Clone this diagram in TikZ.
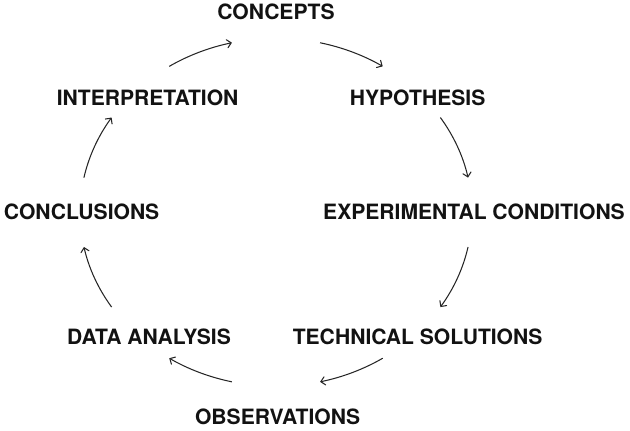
\documentclass[tikz,border=0pt]{standalone}
\usepackage{fontspec}
\setmainfont{TeX Gyre Heros}
\usetikzlibrary{arrows}

\begin{document}
\begin{tikzpicture}[
    stage/.style={font=\bfseries\fontsize{15}{18}\selectfont, text=black!93, inner sep=0pt},
    cyc/.style={-angle 90, line width=0.75pt, black!85}
  ]
    \useasboundingbox (-6.9,5.3075) rectangle (8.85,-5.4675);

    \node[stage] (concepts) at (0,5.0) {CONCEPTS};
    \node[stage] (hypothesis) at (3.54,2.86) {HYPOTHESIS};
    \node[stage] (conditions) at (4.95,0) {EXPERIMENTAL CONDITIONS};
    \node[stage] (solutions) at (3.54,-3.12) {TECHNICAL SOLUTIONS};
    \node[stage] (observations) at (0.04,-5.12) {OBSERVATIONS};
    \node[stage] (analysis) at (-3.175,-3.12) {DATA ANALYSIS};
    \node[stage] (conclusions) at (-4.86,0) {CONCLUSIONS};
    \node[stage] (interpretation) at (-3.21,2.86) {INTERPRETATION};

    % arcs of the cycle
    \coordinate (a1) at (77:4.9 and 4.35);
    \coordinate (a2) at (33:4.9 and 4.35);
    \coordinate (a3) at (-11.5:4.9 and 4.35);
    \coordinate (a4) at (-57:4.9 and 4.35);
    \coordinate (a5) at (-103:4.9 and 4.35);
    \coordinate (a6) at (-147:4.9 and 4.35);
    \coordinate (a7) at (168.5:4.9 and 4.35);
    \coordinate (a8) at (123:4.9 and 4.35);

    \draw[cyc] (a1) arc[start angle=77, end angle=57, x radius=4.9, y radius=4.35];
    \draw[cyc] (a2) arc[start angle=33, end angle=11.5, x radius=4.9, y radius=4.35];
    \draw[cyc] (a3) arc[start angle=-11.5, end angle=-33, x radius=4.9, y radius=4.35];
    \draw[cyc] (a4) arc[start angle=-57, end angle=-77, x radius=4.9, y radius=4.35];
    \draw[cyc] (a5) arc[start angle=-103, end angle=-123, x radius=4.9, y radius=4.35];
    \draw[cyc] (a6) arc[start angle=-147, end angle=-168.5, x radius=4.9, y radius=4.35];
    \draw[cyc] (a7) arc[start angle=168.5, end angle=147, x radius=4.9, y radius=4.35];
    \draw[cyc] (a8) arc[start angle=123, end angle=103, x radius=4.9, y radius=4.35];
  \end{tikzpicture}
\end{document}
